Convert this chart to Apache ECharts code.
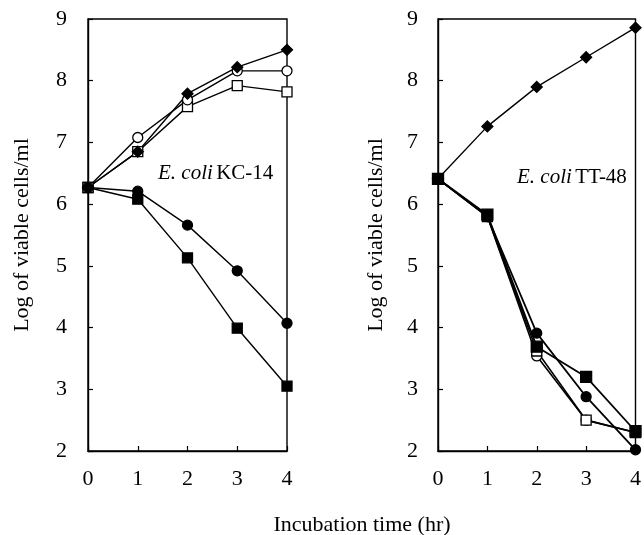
<!DOCTYPE html>
<html><head><meta charset="utf-8">
<script src="https://cdn.jsdelivr.net/npm/echarts@6/dist/echarts.min.js"></script>
<style>html,body{margin:0;padding:0;background:#fff}#c{width:644px;height:535px}</style>
</head><body><div id="c"></div>
<script>
const hours = [0, 1, 2, 3, 4];
const yTicks = [2, 3, 4, 5, 6, 7, 8, 9];
// Left panel: E. coli KC-14
const kcDiamond = [6.27, 6.85, 7.79, 8.22, 8.50];
const kcOpenCircle = [6.27, 7.08, 7.69, 8.16, 8.16];
const kcOpenSquare = [6.27, 6.85, 7.58, 7.92, 7.82];
const kcFilledCircle = [6.27, 6.21, 5.66, 4.92, 4.07];
const kcFilledSquare = [6.27, 6.08, 5.13, 3.99, 3.05];
// Right panel: E. coli TT-48
const ttDiamond = [6.41, 7.26, 7.90, 8.38, 8.86];
const ttFilledCircle = [6.41, 5.80, 3.91, 2.88, 2.02];
const ttFilledSquare = [6.41, 5.83, 3.69, 3.20, 2.32];
const ttOpenCircle = [6.41, 5.80, 3.54, 2.50, 2.30];
const ttOpenSquare = [6.41, 5.80, 3.62, 2.50, 2.30];

const font = 'Liberation Serif';
const chart = echarts.init(document.getElementById('c'));
const pairs = a => a.map((v, i) => [hours[i], v]);

function ser(idx, data, symbol, filled, size, lw) {
  return {
    type: 'line', xAxisIndex: idx, yAxisIndex: idx, data: pairs(data),
    symbol: symbol, symbolSize: size, showSymbol: true,
    lineStyle: {color: '#000', width: lw || 1.4},
    itemStyle: {color: filled ? '#000' : '#fff', borderColor: '#000', borderWidth: 1.3, opacity: 1},
    emphasis: {disabled: true}, animation: false
  };
}
function xA(idx) {
  return {gridIndex: idx, type: 'value', min: 0, max: 4, interval: 1,
    axisLine: {lineStyle: {color: '#000', width: 1.4}},
    axisTick: {inside: true, length: 5, lineStyle: {color: '#000', width: 1.2}},
    axisLabel: {color: '#000', fontFamily: font, fontSize: 22, margin: 17},
    splitLine: {show: false}};
}
function yA(idx, gap, margin) {
  return {gridIndex: idx, type: 'value', min: 2, max: 9, interval: 1,
    name: 'Log of viable cells/ml', nameLocation: 'middle', nameGap: gap,
    nameTextStyle: {color: '#000', fontFamily: font, fontSize: 22},
    axisLine: {lineStyle: {color: '#000', width: 1.4}},
    axisTick: {inside: true, length: 5, lineStyle: {color: '#000', width: 1.2}},
    axisLabel: {color: '#000', fontFamily: font, fontSize: 22, margin: margin,
      formatter: v => yTicks.includes(v) ? String(v) : ''},
    splitLine: {show: false}};
}
chart.setOption({
  animation: false,
  grid: [
    {left: 88, top: 19, width: 199, height: 432, show: true, borderColor: '#000', borderWidth: 1.4, backgroundColor: 'transparent'},
    {left: 438, top: 19, width: 199, height: 432, show: true, borderColor: '#000', borderWidth: 1.4, backgroundColor: 'transparent'}
  ],
  xAxis: [xA(0), xA(1)],
  yAxis: [yA(0, 55, 21), yA(1, 51, 20)],
  series: [
    ser(0, kcFilledSquare, 'rect', true, 10),
    ser(0, kcFilledCircle, 'circle', true, 10),
    ser(0, kcOpenSquare, 'rect', false, 10),
    ser(0, kcOpenCircle, 'circle', false, 10),
    ser(0, kcDiamond, 'diamond', true, 11),
    ser(1, ttDiamond, 'diamond', true, 11),
    ser(1, ttOpenCircle, 'circle', false, 10, 1.6),
    ser(1, ttOpenSquare, 'rect', false, 10, 1.6),
    ser(1, ttFilledCircle, 'circle', true, 10, 1.8),
    ser(1, ttFilledSquare, 'rect', true, 11, 1.8)
  ],
  graphic: [
    {type: 'text', x: 362, y: 514, style: {text: 'Incubation time (hr)', fill: '#000', font: '22px "Liberation Serif"', textAlign: 'center'}},
    {type: 'text', x: 158, y: 163, style: {text: '{i|E. coli} {n|KC-14}', rich: {
      i: {fontFamily: font, fontSize: 21, fontStyle: 'italic', fill: '#000'},
      n: {fontFamily: font, fontSize: 21, fill: '#000'}}}},
    {type: 'text', x: 517, y: 167, style: {text: '{i|E. coli} {n|TT-48}', rich: {
      i: {fontFamily: font, fontSize: 21, fontStyle: 'italic', fill: '#000'},
      n: {fontFamily: font, fontSize: 21, fill: '#000'}}}}
  ]
});
</script></body></html>
